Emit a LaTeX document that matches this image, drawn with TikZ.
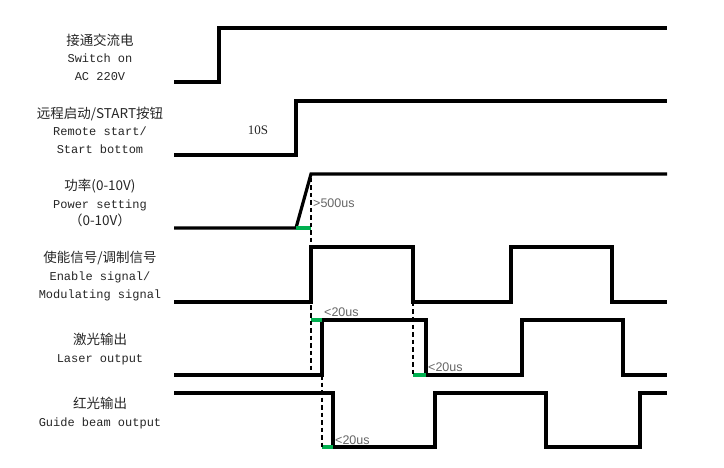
\documentclass[tikz,border=0pt]{standalone}
\usepackage{fontspec}
\usepackage{tikz}
\setmonofont{Liberation Mono}
\setsansfont{Liberation Sans}
\newfontfamily\cjk{Noto Sans CJK SC}
\newfontfamily\numfont{Liberation Serif}
\definecolor{okgreen}{RGB}{0,176,80}
\tikzset{
  sig/.style={line width=3.2pt, line join=miter},
  okmark/.style={okgreen, line width=3.2pt},
  guide/.style={line width=1.8pt, dash pattern=on 4.5pt off 3pt},
  lbl/.style={align=center, text=black!85, font=\fontsize{12}{17.6}\selectfont\ttfamily},
  tim/.style={anchor=west, inner sep=1pt, text=black!60, font=\sffamily\fontsize{12.5}{14}\selectfont},
}

\begin{document}
\begin{tikzpicture}[x=1pt,y=-1pt]
    \useasboundingbox (0,0) rectangle (724,468);
    % labels
    \node[lbl] (acin) at (100,57) {{\cjk\fontsize{13.5}{17.6}\selectfont 接通交流电}\\Switch on\\AC 220V};
    \node[lbl] (start) at (100,130) {{\cjk\fontsize{13.5}{17.6}\selectfont 远程启动/START按钮}\\Remote start/\\Start bottom};
    \node[lbl] (power) at (100,203) {{\cjk\fontsize{13.5}{17.6}\selectfont 功率(0-10V)}\\Power setting\\{\cjk\fontsize{13.5}{17.6}\selectfont （0-10V）}};
    \node[lbl] (enable) at (100,276) {{\cjk\fontsize{13.5}{17.6}\selectfont 使能信号/调制信号}\\Enable signal/\\Modulating signal};
    \node[lbl] (laser) at (100,349) {{\cjk\fontsize{13.5}{17.6}\selectfont 激光输出}\\Laser output};
    \node[lbl] (guidebeam) at (100,413) {{\cjk\fontsize{13.5}{17.6}\selectfont 红光输出}\\Guide beam output};
    % signals
    \draw[sig] (174,82) -- (219,82) -- (219,28) -- (667,28);
    \draw[sig] (174,155) -- (296,155) -- (296,101) -- (667,101);
    \draw[sig] (174,228) -- (296,228) -- (311,174) -- (667,174);
    \draw[sig] (174,302) -- (311,302) -- (311,247) -- (413,247) -- (413,302) -- (511,302)
               -- (511,247) -- (612,247) -- (612,302) -- (667,302);
    \draw[sig] (174,375) -- (322,375) -- (322,320) -- (426,320) -- (426,375) -- (522,375)
               -- (522,320) -- (623,320) -- (623,375) -- (667,375);
    \draw[sig] (174,393) -- (333,393) -- (333,447) -- (435,447) -- (435,393) -- (546,393)
               -- (546,447) -- (640,447) -- (640,393) -- (667,393);
    % delays
    \draw[okmark] (296,228) -- (311,228);
    \draw[okmark] (311,320) -- (322,320);
    \draw[okmark] (413,375) -- (426,375);
    \draw[okmark] (322,447) -- (333,447);
    \draw[guide] (311,178) -- (311,375);
    \draw[guide] (413,302) -- (413,375);
    \draw[guide] (322,375) -- (322,447);
    \node[font=\numfont\fontsize{13}{14}\selectfont, text=black!85] (wait) at (258,130) {10S};
    \node[tim] (ramp) at (312,203) {>500us};
    \node[tim] (lon) at (323,312) {<20us};
    \node[tim] (loff) at (427,367) {<20us};
    \node[tim] (goff) at (334,440) {<20us};
\end{tikzpicture}
\end{document}
